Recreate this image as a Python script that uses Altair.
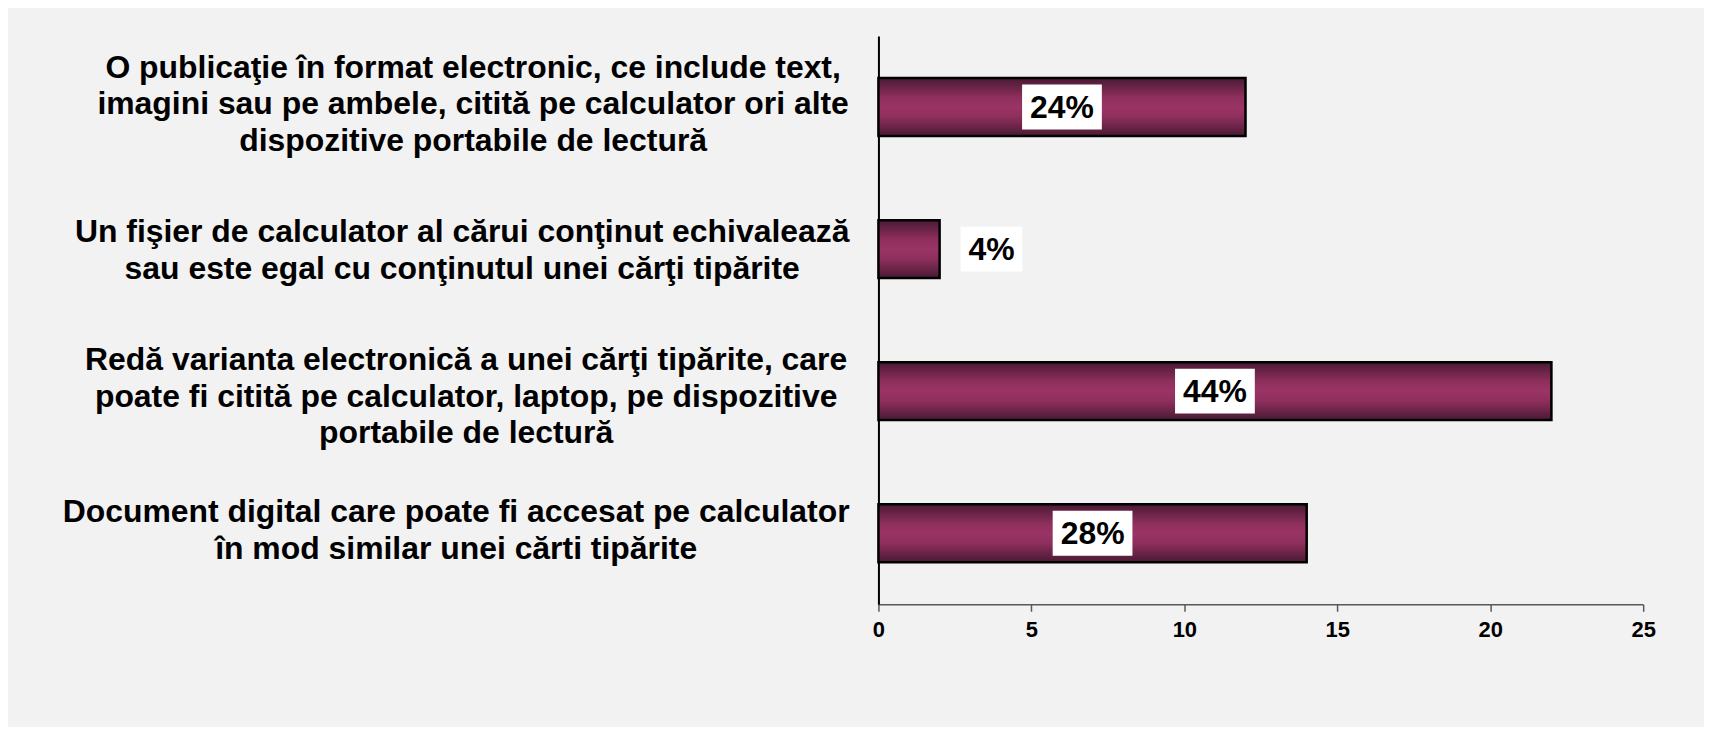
import altair as alt
import pandas as pd

# ---- data -------------------------------------------------------------
categories = [
    "O publicaţie în format electronic, ce include text,|imagini sau pe ambele, citită pe calculator ori alte|dispozitive portabile de lectură",
    "Un fişier de calculator al cărui conţinut echivalează|sau este egal cu conţinutul unei cărţi tipărite",
    "Redă varianta electronică a unei cărţi tipărite, care|poate fi citită pe calculator, laptop, pe dispozitive|portabile de lectură",
    "Document digital care poate fi accesat pe calculator|în mod similar unei cărti tipărite",
]
values = [12, 2, 22, 14]
pct_labels = ["24%", "4%", "44%", "28%"]
x_ticks = [0, 5, 10, 15, 20, 25]

df = pd.DataFrame({"category": categories, "value": values, "label": pct_labels})

# ---- layout -----------------------------------------------------------
PLOT_W, PLOT_H = 767, 570
PX_PER_UNIT = PLOT_W / 25.0
FONT = "Liberation Sans"
# distance (px) from the axis line to the centre of each category text block
label_block_offsets = [407, 418, 414, 424]
# vertical shift (px) of each multi-line text block
label_vshift = [-39, -17, -31, -21]
prefixes = ["O public", "Un fi", "Red", "Document"]
pad_conditions = [
    {"test": f"indexof(datum.value, '{p}') === 0", "value": o}
    for p, o in zip(prefixes, label_block_offsets)
]
off_conditions = [
    {"test": f"indexof(datum.value, '{p}') === 0", "value": o}
    for p, o in zip(prefixes, label_vshift)
]

gradient = alt.Gradient(
    gradient="linear",
    x1=0, x2=0, y1=0, y2=1,
    stops=[
        alt.GradientStop(color="#4a1a33", offset=0),
        alt.GradientStop(color="#8e2f5c", offset=0.33),
        alt.GradientStop(color="#9a3466", offset=0.5),
        alt.GradientStop(color="#8e2f5c", offset=0.67),
        alt.GradientStop(color="#4a1a33", offset=1),
    ],
)

x_scale = alt.Scale(domain=[0, 25], nice=False, zero=True)
y_scale = alt.Scale(paddingInner=0, paddingOuter=0)

y_axis = alt.Axis(
    title=None,
    grid=False,
    ticks=False,
    tickSize=0,
    domainColor="black",
    domainWidth=2,
    labelFont=FONT,
    labelFontWeight="bold",
    labelFontSize=32,
    labelColor="black",
    labelAlign="center",
    labelBaseline="middle",
    labelLineHeight=36.5,
    labelLimit=3000,
    labelExpr="split(datum.label, '|')",
    labelPadding={"condition": pad_conditions, "value": 414},
    labelOffset={"condition": off_conditions, "value": -20},
)

x_axis = alt.Axis(
    title=None,
    grid=False,
    values=x_ticks,
    domainColor="#595959",
    domainWidth=1.5,
    tickColor="#595959",
    tickWidth=1.5,
    tickSize=7,
    labelFlush=False,
    labelFont=FONT,
    labelFontWeight="bold",
    labelFontSize=22,
    labelColor="black",
    labelPadding=8,
)

base = alt.Chart(df)

bars = base.mark_bar(size=58, stroke="black", strokeWidth=2.5, color=gradient).encode(
    x=alt.X("value:Q", scale=x_scale, axis=x_axis),
    y=alt.Y("category:N", sort=None, scale=y_scale, axis=y_axis),
)

lab = base.transform_calculate(
    half=f"(length(datum.label) > 2 ? 40 : 31) / {PX_PER_UNIT}",
    lx=f"datum.value < 4 ? datum.value + 52 / {PX_PER_UNIT} : datum.value / 2",
).transform_calculate(
    bx1="datum.lx - datum.half",
    bx2="datum.lx + datum.half",
)

boxes = lab.mark_bar(size=45, color="white").encode(
    x=alt.X("bx1:Q", scale=x_scale),
    x2="bx2:Q",
    y=alt.Y("category:N", sort=None, scale=y_scale),
)

texts = lab.mark_text(
    font=FONT, fontWeight="bold", fontSize=32, color="black",
    align="center", baseline="middle", dy=1,
).encode(
    x=alt.X("lx:Q", scale=x_scale),
    y=alt.Y("category:N", sort=None, scale=y_scale),
    text="label:N",
)

chart = (
    alt.layer(bars, boxes, texts)
    .properties(
        width=PLOT_W,
        height=PLOT_H,
        autosize="none",
        padding={"left": 873, "top": 27, "right": 61, "bottom": 122},
        background="#f2f2f2",
    )
    .configure_view(stroke=None)
)

chart.save("out.html", embed_options={"renderer": "svg", "actions": False})
